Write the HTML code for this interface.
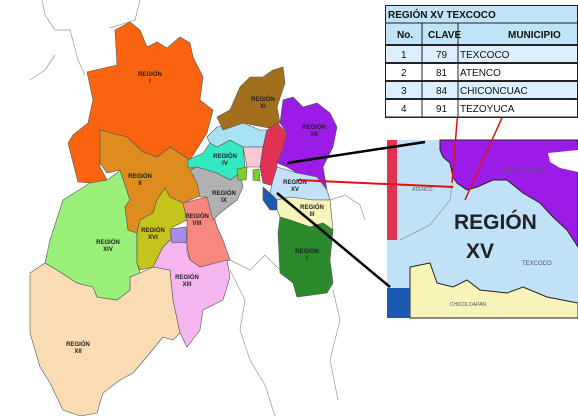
<!DOCTYPE html>
<html><head><meta charset="utf-8"><style>
body{margin:0;background:#fff;width:578px;height:416px;overflow:hidden;font-family:"Liberation Sans",sans-serif}
svg{display:block}
.r{stroke:#555;stroke-width:0.6}
.lb{font-family:"Liberation Sans",sans-serif;font-size:6px;font-weight:bold;fill:#222;text-anchor:middle}
.t{font-family:"Liberation Sans",sans-serif;font-size:10px;fill:#111}
</style></head><body>
<svg width="578" height="416" viewBox="0 0 578 416">
<g fill="none" stroke="#999" stroke-width="0.7">
<path d="M42 0 L45 15 L55 30 L70 30 L78 60 L85 75"/>
<path d="M30 80 L45 70 L55 55"/>
<path d="M140 0 L135 20 L110 28"/>
<path d="M230 270 L245 300 L240 330 L250 360 L265 385 L275 416"/>
<path d="M333 290 L340 320 L330 360 L338 400"/>
<path d="M330 200 L345 195 L360 205 L365 220"/>
<path d="M230 260 L250 270 L265 255 L280 270"/>
</g>
<g>
<polygon class="r" fill="#f9dcb4" points="30,273 45,263 57,270 77,283 93,287 97,297 117,300 130,290 130,277 140,273 153,267 170,270 173,300 180,333 173,340 163,337 150,353 133,373 120,380 103,393 97,413 80,416 63,410 50,383 40,367 30,333"/>
<polygon class="r" fill="#9aef78" points="63,200 90,183 107,180 117,173 120,170 130,200 125,207 128,230 137,233 137,263 140,273 130,277 130,290 117,300 97,297 93,287 77,283 57,270 45,263 50,240"/>
<polygon class="r" fill="#fa6410" points="87,72 117,65 115,30 130,22 140,30 147,47 157,42 167,48 180,37 190,43 193,57 203,77 200,100 213,110 207,133 190,160 170,147 157,157 143,152 127,137 100,130 100,167 107,180 90,183 78,182 68,143 73,135 88,123 93,100"/>
<polygon class="r" fill="#de8c1e" points="100,130 127,137 143,152 157,157 170,147 190,160 197,180 207,193 183,203 170,197 165,188 157,200 153,213 140,220 137,233 128,230 125,207 130,200 120,170 107,173 100,163"/>
<polygon class="r" fill="#c4c41c" points="137,233 140,220 153,213 157,200 165,188 170,197 183,203 187,220 173,227 170,240 163,247 153,267 140,270 137,263"/>
<polygon class="r" fill="#f7877f" points="183,203 207,197 213,213 217,227 223,240 230,260 200,267 190,260 187,247 187,233 187,220"/>
<polygon class="r" fill="#f5b6ef" points="153,267 163,247 170,240 187,243 187,253 190,260 200,267 227,260 230,277 223,300 203,310 200,330 187,347 180,333 173,300 170,270"/>
<polygon class="r" fill="#a88be4" points="170,229 186,227 187,242 172,243"/>
<polygon class="r" fill="#b1b1b1" points="190,170 197,167 217,173 230,180 240,173 243,187 237,200 220,213 213,220 207,197 200,197 197,183"/>
<polygon class="r" fill="#36e8c2" points="188,160 203,153 210,143 217,147 230,140 243,147 245,167 240,173 230,180 217,173 197,167 188,168"/>
<polygon class="r" fill="#a8e2f2" points="207,137 217,127 243,123 260,130 267,130 263,147 243,147 230,140 217,147 210,143"/>
<polygon class="r" fill="#a2701c" points="217,117 230,110 240,87 250,77 263,77 273,70 283,67 285,83 277,107 280,123 270,128 263,127 243,123 223,130"/>
<polygon class="r" fill="#f8c8d2" points="243,147 263,147 260,167 247,167"/>
<polygon class="r" fill="#e03252" points="277,123 287,133 283,150 277,163 277,187 263,183 260,167 263,147 267,130"/>
<polygon class="r" fill="#9b1ce6" points="280,123 283,100 293,97 303,107 317,103 330,113 337,127 333,147 323,167 327,190 317,177 297,173 287,167 277,163 283,150 287,133"/>
<polygon class="r" fill="#c0e1f6" points="277,167 297,173 317,177 327,190 330,200 313,200 290,197 277,200 270,193 273,180"/>
<polygon class="r" fill="#1c5ab2" points="263,187 270,193 277,200 278,210 270,210 263,200"/>
<polygon class="r" fill="#f8f4ba" points="277,200 290,197 313,200 330,200 333,230 323,223 310,227 290,220 280,217 277,210"/>
<polygon class="r" fill="#2b8a2b" points="280,217 290,220 310,227 323,223 333,230 330,260 333,283 327,293 297,297 293,283 280,273 278,233"/>
<polygon class="r" fill="#7ccf2a" points="237,169 247,167 246,180 238,180"/>
<polygon class="r" fill="#7ccf2a" points="253,170 259,169 260,181 253,180"/>
</g>
<g>
<text class="lb" x="150" y="76">REGIÓN</text><text class="lb" x="150" y="83">I</text>
<text class="lb" x="140" y="178">REGIÓN</text><text class="lb" x="140" y="185">II</text>
<text class="lb" x="108" y="244">REGIÓN</text><text class="lb" x="108" y="251">XIV</text>
<text class="lb" x="153" y="232">REGIÓN</text><text class="lb" x="153" y="239">XVI</text>
<text class="lb" x="197" y="218">REGIÓN</text><text class="lb" x="197" y="225">VIII</text>
<text class="lb" x="187" y="279">REGIÓN</text><text class="lb" x="187" y="286">XIII</text>
<text class="lb" x="78" y="346">REGIÓN</text><text class="lb" x="78" y="353">XII</text>
<text class="lb" x="224" y="195">REGIÓN</text><text class="lb" x="224" y="202">IX</text>
<text class="lb" x="225" y="158">REGIÓN</text><text class="lb" x="225" y="165">IV</text>
<text class="lb" x="263" y="101">REGIÓN</text><text class="lb" x="263" y="108">XI</text>
<text class="lb" x="314" y="129">REGIÓN</text><text class="lb" x="314" y="136">XII</text>
<text class="lb" x="295" y="184">REGIÓN</text><text class="lb" x="295" y="191">XV</text>
<text class="lb" x="312" y="209">REGIÓN</text><text class="lb" x="312" y="216">III</text>
<text class="lb" x="307" y="253">REGIÓN</text><text class="lb" x="307" y="260">I</text>
</g>
<g>
<rect x="387" y="140" width="191" height="178" fill="#c0e1f6"/>
<polygon fill="#9b1ce6" stroke="#222" stroke-width="1" points="440,140 578,140 578,247 567,230 553,217 540,203 523,193 507,180 493,180 477,187 467,190 457,183 453,177 450,163 443,157 440,150"/>
<polygon fill="#fff" points="548,153 578,150 578,172 560,168 550,162"/>
<rect x="387" y="140" width="10" height="100" fill="#e03252"/>
<polygon fill="#f8f4ba" stroke="#222" stroke-width="1" points="410,267 430,263 437,283 453,287 467,280 480,290 507,293 523,287 547,297 578,303 578,318 410,318"/>
<rect x="387" y="288" width="23" height="30" fill="#1c5ab2"/>
<path d="M400 240 L430 225 L450 200 L452 185" fill="none" stroke="#9aa" stroke-width="1"/>
<text x="454" y="229" font-size="21" font-weight="bold" fill="#222" font-family="Liberation Sans,sans-serif">REGIÓN</text>
<text x="466" y="258" font-size="21" font-weight="bold" fill="#222" font-family="Liberation Sans,sans-serif">XV</text>
<text x="522" y="265" font-size="6" fill="#556">TEXCOCO</text>
<text x="412" y="191" font-size="5" fill="#556">ATENCO</text>
<text x="505" y="172" font-size="5" fill="#556">TEPETLAOXTOC</text>
<text x="450" y="306" font-size="5" fill="#556">CHICOLOAPAN</text>
</g>
<g fill="none">
<path d="M287 163 L425 142" stroke="#000" stroke-width="2.5"/>
<path d="M277 193 L390 287" stroke="#000" stroke-width="2.5"/>
<path d="M297 180 L453 187" stroke="#e01010" stroke-width="2"/>
<path d="M458 110 L452 183" stroke="#e01010" stroke-width="1.5"/>
<path d="M510 100 L465 200" stroke="#e01010" stroke-width="1.5"/>
</g>
<g>
<rect x="385" y="5" width="193" height="113" fill="#fff"/>
<rect x="385" y="5" width="193" height="40" fill="#bfe3f7"/>
<rect x="385" y="45" width="193" height="18" fill="#dcefff"/>
<rect x="385" y="81" width="193" height="18" fill="#dcefff"/>
<g stroke="#222" stroke-width="1">
<line x1="385" y1="23" x2="578" y2="23"/><line x1="385" y1="45" x2="578" y2="45" stroke-width="2"/>
<line x1="385" y1="63" x2="578" y2="63" stroke-width="2"/><line x1="385" y1="81" x2="578" y2="81" stroke-width="2"/>
<line x1="385" y1="99" x2="578" y2="99" stroke-width="2"/><line x1="385" y1="117" x2="578" y2="117"/>
<line x1="422" y1="23" x2="422" y2="117"/><line x1="458" y1="23" x2="458" y2="117"/>
<rect x="385.5" y="5.5" width="192" height="112" fill="none"/>
</g>
<text class="t" x="388" y="18" font-weight="bold" font-size="9">REGIÓN XV TEXCOCO</text>
<text class="t" x="397" y="38" font-weight="bold" font-size="9">No.</text>
<text class="t" x="428" y="38" font-weight="bold" font-size="9">CLAVE</text>
<text class="t" x="508" y="38" font-weight="bold" font-size="9">MUNICIPIO</text>
<text class="t" x="401" y="58">1</text><text class="t" x="436" y="58">79</text><text class="t" x="460" y="58">TEXCOCO</text>
<text class="t" x="401" y="76">2</text><text class="t" x="436" y="76">81</text><text class="t" x="460" y="76">ATENCO</text>
<text class="t" x="401" y="94">3</text><text class="t" x="436" y="94">84</text><text class="t" x="460" y="94">CHICONCUAC</text>
<text class="t" x="401" y="112">4</text><text class="t" x="436" y="112">91</text><text class="t" x="460" y="112">TEZOYUCA</text>
</g>
</svg>
</body></html>
